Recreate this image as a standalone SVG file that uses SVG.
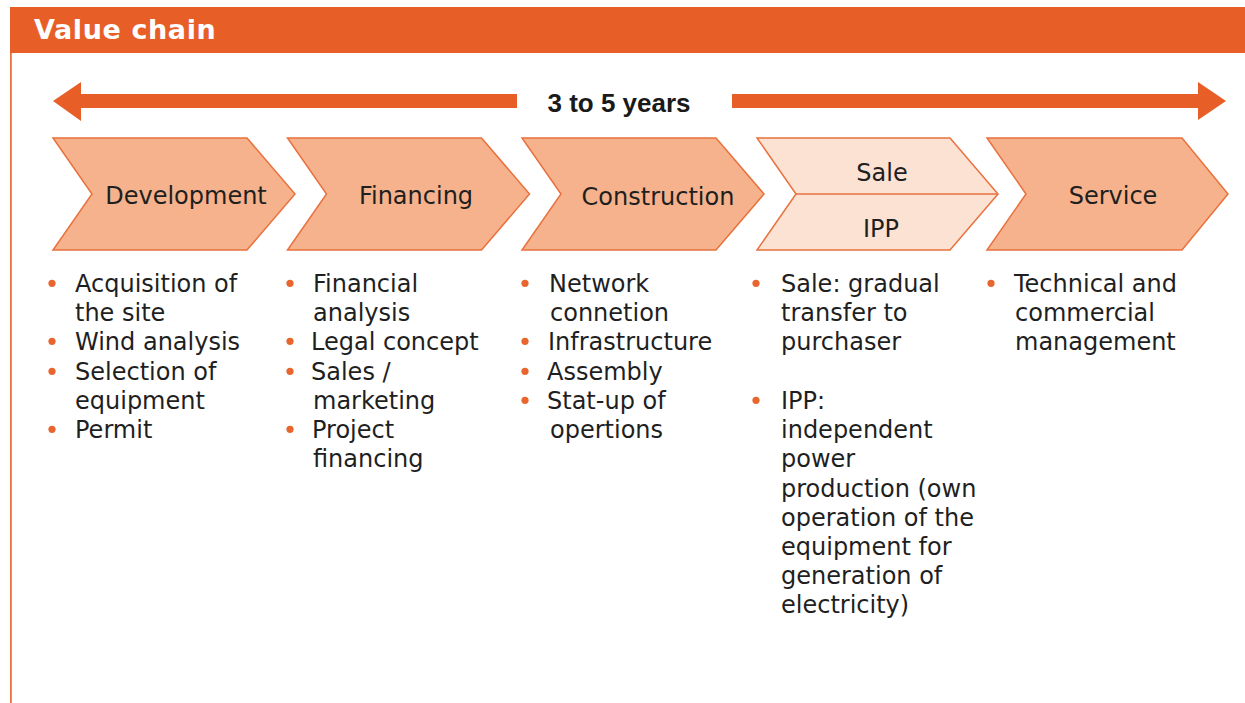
<svg xmlns="http://www.w3.org/2000/svg" width="1245" height="703" viewBox="0 0 1245 703">
  <defs>
    <style>
      .hdr { fill: #E85E27; }
      .hdrtxt { font-family: "DejaVu Sans", sans-serif; font-weight: bold; font-size: 27px; fill: #ffffff; letter-spacing: 0.6px; }
      .span { fill: #E85E27; }
      .spantxt { font-family: "Liberation Sans", Arial, sans-serif; font-weight: bold; font-size: 26px; fill: #1a1a1a; text-anchor: middle; }
      .chev { fill: #F5B28C; stroke: #E9713D; stroke-width: 1.5; stroke-linejoin: miter; }
      .chevlight { fill: #FBE2D2; stroke: #E9713D; stroke-width: 1.5; }
      .div { stroke: #E9713D; stroke-width: 1.5; fill: none; }
      .lbl { font-family: "DejaVu Sans", sans-serif; font-size: 24px; fill: #1f1f1f; text-anchor: middle; }
      .txt { font-family: "DejaVu Sans", sans-serif; font-size: 24px; fill: #1f1f1f; }
      .dot { fill: #E8662E; }
      .frame { stroke: #E9713D; stroke-width: 1.8; fill: none; }
    </style>
  </defs>

  <rect x="0" y="0" width="1245" height="703" fill="#ffffff"/>

  <g id="frame">
    <rect class="hdr" x="10" y="7" width="1235" height="46"/>
    <line class="frame" x1="10.9" y1="53" x2="10.9" y2="703"/>
    <text class="hdrtxt" x="34" y="39">Value chain</text>
  </g>

  <g id="connectors">
    <polygon class="span" points="53,101 81,82 81,94 517,94 517,108 81,108 81,121"/>
    <polygon class="span" points="732,94 1198,94 1198,82 1226,101 1198,120 1198,108 732,108"/>
    <text class="spantxt" x="619" y="112">3 to 5 years</text>
  </g>

  <g id="node-development">
    <polygon class="chev" points="53,138 247,138 295,194 247,250 53,250 92,194"/>
    <text class="lbl" x="186" y="204">Development</text>
  </g>

  <g id="node-financing">
    <polygon class="chev" points="287.5,138 481.5,138 529.5,194 481.5,250 287.5,250 326.5,194"/>
    <text class="lbl" x="416" y="204">Financing</text>
  </g>

  <g id="node-construction">
    <polygon class="chev" points="522,138 716,138 764,194 716,250 522,250 561,194"/>
    <text class="lbl" x="658" y="205">Construction</text>
  </g>

  <g id="node-sale-ipp">
    <polygon class="chevlight" points="757,138 950,138 998,194 950,250 757,250 796,194"/>
    <line class="div" x1="796" y1="194" x2="998" y2="194"/>
    <text class="lbl" x="882" y="181">Sale</text>
    <text class="lbl" x="881" y="237">IPP</text>
  </g>

  <g id="node-service">
    <polygon class="chev" points="987,138 1182,138 1228,194 1182,250 987,250 1026,194"/>
    <text class="lbl" x="1113" y="204">Service</text>
  </g>

  <g id="list-development">
    <circle class="dot" cx="52" cy="283.3" r="3.6"/>
    <circle class="dot" cx="52" cy="341.3" r="3.6"/>
    <circle class="dot" cx="52" cy="371.3" r="3.6"/>
    <circle class="dot" cx="52" cy="429.3" r="3.6"/>
    <text class="txt" x="75" y="292">Acquisition of</text>
    <text class="txt" x="75" y="321">the site</text>
    <text class="txt" x="75" y="350">Wind analysis</text>
    <text class="txt" x="75" y="380">Selection of</text>
    <text class="txt" x="75" y="409">equipment</text>
    <text class="txt" x="75" y="438">Permit</text>
  </g>

  <g id="list-financing">
    <circle class="dot" cx="290" cy="283.3" r="3.6"/>
    <circle class="dot" cx="290" cy="341.3" r="3.6"/>
    <circle class="dot" cx="290" cy="371.3" r="3.6"/>
    <circle class="dot" cx="290" cy="429.3" r="3.6"/>
    <text class="txt" x="313" y="292">Financial</text>
    <text class="txt" x="313" y="321">analysis</text>
    <text class="txt" x="311" y="350">Legal concept</text>
    <text class="txt" x="311" y="380">Sales /</text>
    <text class="txt" x="313" y="409">marketing</text>
    <text class="txt" x="312" y="438">Project</text>
    <text class="txt" x="313" y="467">financing</text>
  </g>

  <g id="list-construction">
    <circle class="dot" cx="525" cy="283.3" r="3.6"/>
    <circle class="dot" cx="525" cy="341.3" r="3.6"/>
    <circle class="dot" cx="525" cy="371.3" r="3.6"/>
    <circle class="dot" cx="525" cy="400.3" r="3.6"/>
    <text class="txt" x="549" y="292">Network</text>
    <text class="txt" x="550" y="321">connetion</text>
    <text class="txt" x="548" y="350">Infrastructure</text>
    <text class="txt" x="547" y="380">Assembly</text>
    <text class="txt" x="547" y="409">Stat-up of</text>
    <text class="txt" x="550" y="438">opertions</text>
  </g>

  <g id="list-sale-ipp">
    <circle class="dot" cx="756" cy="283.3" r="3.6"/>
    <circle class="dot" cx="756" cy="400.3" r="3.6"/>
    <text class="txt" x="781" y="292">Sale: gradual</text>
    <text class="txt" x="781" y="321">transfer to</text>
    <text class="txt" x="781" y="350">purchaser</text>
    <text class="txt" x="781" y="409">IPP:</text>
    <text class="txt" x="781" y="438">independent</text>
    <text class="txt" x="781" y="467">power</text>
    <text class="txt" x="781" y="497">production (own</text>
    <text class="txt" x="781" y="526">operation of the</text>
    <text class="txt" x="781" y="555">equipment for</text>
    <text class="txt" x="781" y="584">generation of</text>
    <text class="txt" x="781" y="613">electricity)</text>
  </g>

  <g id="list-service">
    <circle class="dot" cx="991" cy="283.3" r="3.6"/>
    <text class="txt" x="1014" y="292">Technical and</text>
    <text class="txt" x="1015" y="321">commercial</text>
    <text class="txt" x="1015" y="350">management</text>
  </g>
</svg>
